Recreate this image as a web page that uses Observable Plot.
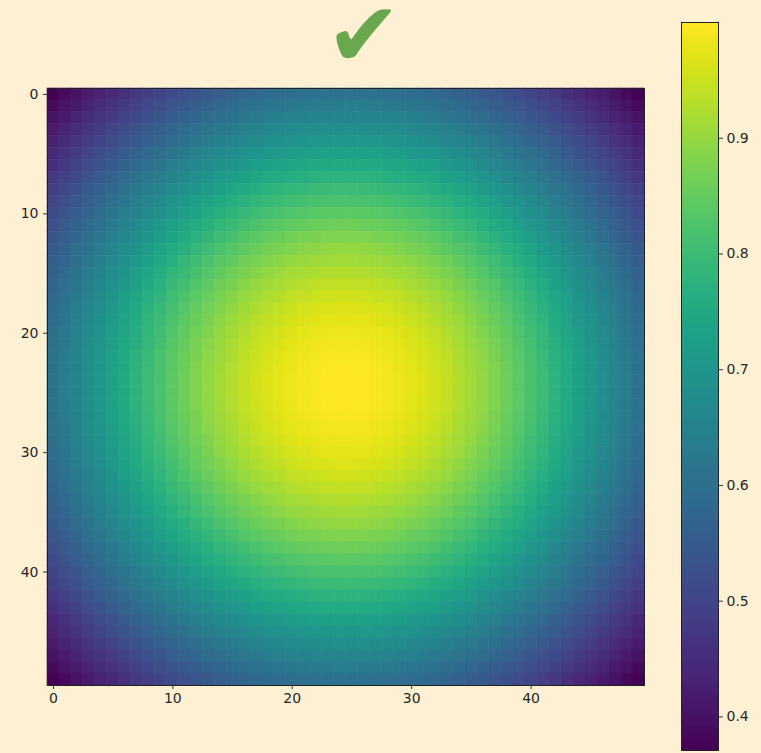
<!DOCTYPE html>
<html><head><meta charset="utf-8">
<script src="https://cdn.jsdelivr.net/npm/d3@7"></script>
<script src="https://cdn.jsdelivr.net/npm/@observablehq/plot@0.6"></script>
<style>
html,body{margin:0;padding:0;background:#fef1d3;}
#wrap{position:relative;width:761px;height:753px;background:#fef1d3;overflow:hidden;font-family:"DejaVu Sans",sans-serif;}
#check{position:absolute;left:326px;top:1px;font-size:90px;line-height:0.75;color:#6aa84f;font-family:"DejaVu Sans",sans-serif;}
#main{position:absolute;left:0;top:0;}
#cbar{position:absolute;left:640px;top:0;}
</style></head><body><div id="wrap"><div id="check">✔</div><div id="main"></div><div id="cbar"></div></div>
<script>
// Profile of the values along one row / one column
const rowProfile = [0.609,0.634,0.658,0.683,0.707,0.730,0.754,0.776,0.799,0.820,
  0.841,0.860,0.879,0.897,0.913,0.928,0.942,0.955,0.966,0.975,
  0.983,0.990,0.995,0.998,1.000,1.000,0.998,0.995,0.990,0.983,
  0.975,0.966,0.955,0.942,0.928,0.913,0.897,0.879,0.860,0.841,
  0.820,0.799,0.776,0.754,0.730,0.707,0.683,0.658,0.634,0.609];
const colProfile = rowProfile.slice();
const xTicks = [0,10,20,30,40];
const yTicks = [0,10,20,30,40];
const cbTicks = [0.4,0.5,0.6,0.7,0.8,0.9];
const vMin = 0.371, vMax = 1.0;

const n = rowProfile.length;
const cells = [];
for (let r = 0; r < n; r++) for (let c = 0; c < n; c++)
  cells.push({row: r, col: c, value: rowProfile[r] * colProfile[c]});

const textColor = "#262626";
const style = {background:"transparent", fontSize:"14px", fontFamily:"DejaVu Sans, sans-serif", color:textColor, overflow:"visible"};

const main = Plot.plot({
  width: 670, height: 720,
  marginLeft: 47, marginTop: 88, marginRight: 26, marginBottom: 35,
  style,
  x: {type:"band", domain: d3.range(n), padding: 0, label: null},
  y: {type:"band", domain: d3.range(n), padding: 0, label: null},
  color: {type:"linear", scheme:"viridis", domain:[vMin, vMax]},
  marks: [
    Plot.cell(cells, {x:"col", y:"row", fill:"value", stroke:"value", strokeWidth:0.6, inset:0}),
    Plot.frame({stroke:"#222", strokeWidth:1}),
    Plot.axisX({ticks:xTicks, tickSize:4, tickPadding:4, label:null, stroke:"#333"}),
    Plot.axisY({ticks:yTicks, tickSize:4, tickPadding:5, label:null, stroke:"#333"})
  ]
});
document.getElementById("main").appendChild(main);

const steps = d3.range(400).map(i => {
  const a = vMin + (vMax - vMin) * i / 400, b = vMin + (vMax - vMin) * (i + 1) / 400;
  return {y1: a, y2: b, v: (a + b) / 2};
});
const cbar = Plot.plot({
  width: 121, height: 753,
  marginLeft: 41, marginRight: 43, marginTop: 22, marginBottom: 3,
  style,
  x: {domain:[0,1], axis:null},
  y: {domain:[vMin, vMax], label:null},
  color: {type:"linear", scheme:"viridis", domain:[vMin, vMax]},
  marks: [
    Plot.rect(steps, {x1:0, x2:1, y1:"y1", y2:"y2", fill:"v", shapeRendering:"crispEdges"}),
    Plot.frame({stroke:"#222", strokeWidth:1}),
    Plot.axisY({anchor:"right", ticks:cbTicks, tickFormat: d => d.toFixed(1), tickSize:4, tickPadding:4, label:null, stroke:"#333"})
  ]
});
document.getElementById("cbar").appendChild(cbar);
</script>
</body></html>
